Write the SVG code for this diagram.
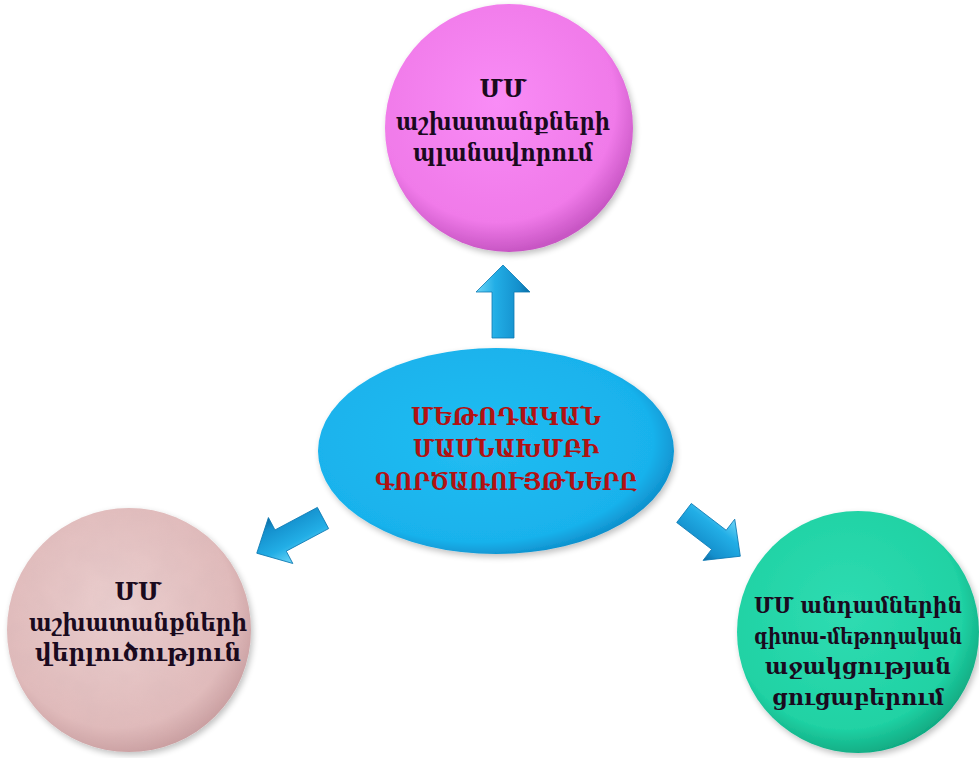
<svg xmlns="http://www.w3.org/2000/svg" width="979" height="758" viewBox="0 0 979 758">
<defs>
<radialGradient id="gMag" cx="45%" cy="40%" r="60%">
<stop offset="0" stop-color="#f98cf6"/><stop offset="0.8" stop-color="#f07ae9"/><stop offset="1" stop-color="#c856c4"/>
</radialGradient>
<radialGradient id="gBlue" cx="45%" cy="45%" r="60%">
<stop offset="0" stop-color="#22bdf2"/><stop offset="0.82" stop-color="#19b2ec"/><stop offset="1" stop-color="#0a82c0"/>
</radialGradient>
<radialGradient id="gPink" cx="45%" cy="42%" r="60%">
<stop offset="0" stop-color="#ecd0d0"/><stop offset="0.8" stop-color="#e2bcbc"/><stop offset="1" stop-color="#c99d9f"/>
</radialGradient>
<radialGradient id="gTeal" cx="45%" cy="42%" r="60%">
<stop offset="0" stop-color="#2fdcb2"/><stop offset="0.8" stop-color="#20d2a4"/><stop offset="1" stop-color="#0fa880"/>
</radialGradient>
<linearGradient id="gArrow" x1="0" y1="0" x2="0" y2="1">
<stop offset="0" stop-color="#6fd6f7"/><stop offset="0.35" stop-color="#22aee6"/><stop offset="0.8" stop-color="#148fcc"/><stop offset="1" stop-color="#0a6aa0"/>
</linearGradient>
<filter id="shadow" x="-10%" y="-10%" width="125%" height="125%">
<feGaussianBlur in="SourceAlpha" stdDeviation="3"/>
<feOffset dx="2" dy="3" result="b"/>
<feComponentTransfer><feFuncA type="linear" slope="0.25"/></feComponentTransfer>
<feMerge><feMergeNode/><feMergeNode in="SourceGraphic"/></feMerge>
</filter>
<filter id="mottle" x="0" y="0" width="100%" height="100%">
<feTurbulence type="fractalNoise" baseFrequency="0.04" numOctaves="3" seed="4"/>
<feColorMatrix type="matrix" values="0 0 0 0 0.55  0 0 0 0 0.4  0 0 0 0 0.42  0 0 0 0.35 0"/>
<feComposite in2="SourceGraphic" operator="in"/>
</filter>
</defs>
<style>
.node text{font-family:"DejaVu Serif","Liberation Serif",serif;font-weight:bold;text-anchor:middle;}
.dark{fill:#1a0a1e;font-size:24px;}
.node text.sm{font-family:"DejaVu Serif Condensed","DejaVu Serif",serif;font-stretch:condensed;font-size:22px;}
.red{fill:#b01212;font-size:24px;font-weight:normal;}
.arrow{fill:url(#gArrow);stroke:#0d79b3;stroke-width:0.8;}
</style>
<rect width="979" height="758" fill="#ffffff"/>

<g id="connectors">
<g transform="translate(503,338) rotate(-90)"><polygon class="arrow" points="0,-11 46,-11 46,-27 73,0 46,27 46,11 0,11"/></g>
<g transform="translate(323,518) rotate(152)"><polygon class="arrow" points="0,-12 48,-12 48,-26 75,0 48,26 48,12 0,12"/></g>
<g transform="translate(684,513) rotate(37.5)"><polygon class="arrow" points="0,-12 44,-12 44,-26 71,0 44,26 44,12 0,12"/></g>
</g>

<g id="node-top" class="node">
<circle cx="509" cy="128" r="124" fill="url(#gMag)" filter="url(#shadow)"/>
<text class="dark" x="503" y="97">ՄՄ</text>
<text class="dark" x="503" y="130" textLength="214" lengthAdjust="spacingAndGlyphs">աշխատանքների</text>
<text class="dark" x="503" y="161" textLength="180" lengthAdjust="spacingAndGlyphs">պլանավորում</text>
</g>

<g id="node-center" class="node">
<ellipse cx="496" cy="451" rx="178" ry="103" fill="url(#gBlue)" filter="url(#shadow)"/>
<text class="red" x="506" y="425" textLength="190" lengthAdjust="spacingAndGlyphs">ՄԵԹՈԴԱԿԱՆ</text>
<text class="red" x="506" y="457" textLength="186" lengthAdjust="spacingAndGlyphs">ՄԱՍՆԱԽՄԲԻ</text>
<text class="red" x="506" y="490" textLength="262" lengthAdjust="spacingAndGlyphs">ԳՈՐԾԱՌՈՒՅԹՆԵՐԸ</text>
</g>

<g id="node-left" class="node">
<circle cx="129" cy="630" r="122" fill="url(#gPink)" filter="url(#shadow)"/>
<circle cx="129" cy="630" r="122" fill="#000" filter="url(#mottle)" opacity="0.5"/>
<text class="dark" x="138" y="600">ՄՄ</text>
<text class="dark" x="138" y="631" textLength="218" lengthAdjust="spacingAndGlyphs">աշխատանքների</text>
<text class="dark" x="138" y="661" textLength="206" lengthAdjust="spacingAndGlyphs">վերլուծություն</text>
</g>

<g id="node-right" class="node">
<circle cx="858" cy="632" r="121" fill="url(#gTeal)" filter="url(#shadow)"/>
<text class="dark sm" x="858" y="613" textLength="208" lengthAdjust="spacingAndGlyphs">ՄՄ անդամներին</text>
<text class="dark sm" x="858" y="644" textLength="208" lengthAdjust="spacingAndGlyphs">գիտա-մեթոդական</text>
<text class="dark sm" x="858" y="674" textLength="186" lengthAdjust="spacingAndGlyphs">աջակցության</text>
<text class="dark sm" x="858" y="705" textLength="172" lengthAdjust="spacingAndGlyphs">ցուցաբերում</text>
</g>
</svg>
